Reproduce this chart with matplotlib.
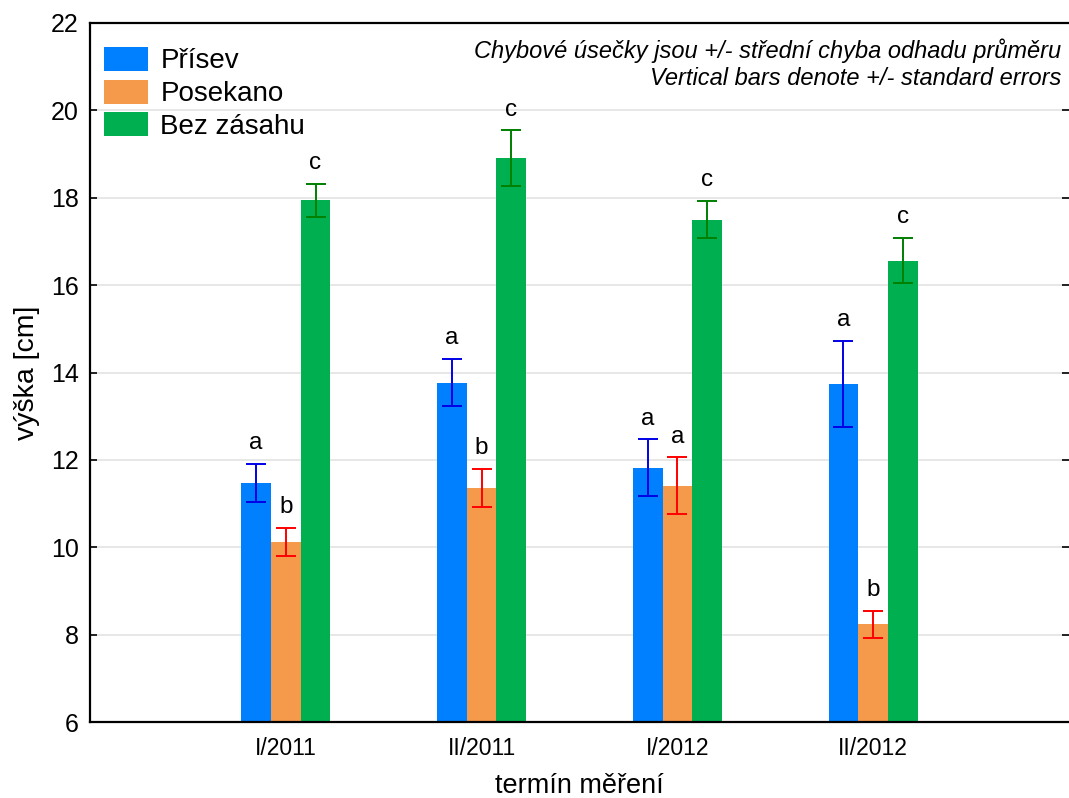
import numpy as np
import matplotlib
matplotlib.use("Agg")
import matplotlib.pyplot as plt
from matplotlib.patches import Patch

plt.rcParams['font.family'] = ['Liberation Sans', 'DejaVu Sans']

# Measurement terms
terms = ["I/2011", "II/2011", "I/2012", "II/2012"]

# Treatments
treatments = ["Přísev", "Posekano", "Bez zásahu"]

# Mean plant height [cm] per treatment and term
prisev_mean = [11.47, 13.77, 11.82, 13.74]
posekano_mean = [10.12, 11.35, 11.41, 8.24]
bez_zasahu_mean = [17.94, 18.91, 17.50, 16.56]

# Standard errors of the means
prisev_se = [0.44, 0.54, 0.65, 0.98]
posekano_se = [0.33, 0.44, 0.65, 0.31]
bez_zasahu_se = [0.38, 0.63, 0.43, 0.52]

# Letters of homogeneous groups
prisev_letters = ["a", "a", "a", "a"]
posekano_letters = ["b", "b", "a", "b"]
bez_zasahu_letters = ["c", "c", "c", "c"]

bar_colors = ["#0080FF", "#F5994A", "#00B050"]
err_colors = ["#0000E6", "#FF0000", "#008000"]

means = [prisev_mean, posekano_mean, bez_zasahu_mean]
ses = [prisev_se, posekano_se, bez_zasahu_se]
letters = [prisev_letters, posekano_letters, bez_zasahu_letters]

fig = plt.figure(figsize=(10.69, 7.98), dpi=100)
ax = fig.add_axes([90 / 1069, 76 / 798, 979 / 1069, 699 / 798])

x = np.arange(1, len(terms) + 1)
width = 0.152
offsets = [-width, 0.0, width]

for k in range(3):
    xs = x + offsets[k]
    ax.bar(xs, np.array(means[k]) - 6, bottom=6, width=width,
           color=bar_colors[k], edgecolor="none", zorder=2)
    ax.errorbar(xs, means[k], yerr=ses[k], fmt="none", ecolor=err_colors[k],
                elinewidth=1.4, capsize=7.5, capthick=1.4, zorder=3)
    for xi, m, s, lab in zip(xs, means[k], ses[k], letters[k]):
        ax.annotate(lab, (xi, m + s), xytext=(0, 10.5), textcoords="offset points",
                    ha="center", va="baseline", fontsize=17.5)

ax.set_xlim(0, 5)
ax.set_ylim(6, 22)
ax.set_yticks(np.arange(6, 23, 2))
ax.set_xticks(x)
ax.set_xticklabels(terms, fontsize=16.5)
ax.tick_params(axis="y", labelsize=18, direction="in", length=5, width=1.2,
               right=True, pad=8)
ax.tick_params(axis="x", length=0, pad=11)

ax.yaxis.grid(True, color="#E3E3E3", linewidth=1.2, zorder=0)
ax.set_axisbelow(True)

for side in ["left", "bottom", "top"]:
    ax.spines[side].set_linewidth(1.6)
ax.spines["right"].set_visible(False)

ax.set_ylabel("výška [cm]", fontsize=20.5, labelpad=8)
ax.set_xlabel("termín měření", fontsize=19.5, labelpad=9)

handles = [Patch(facecolor=c, edgecolor="none") for c in bar_colors]
ax.legend(handles, treatments, loc="upper left", bbox_to_anchor=(0.0, 0.9857),
          bbox_transform=ax.transAxes,
          frameon=False, fontsize=20, handlelength=1.58, handleheight=0.95,
          handletextpad=0.45, labelspacing=0.19, borderaxespad=0.3,
          borderpad=0.2)

ax.text(0.992, 0.978, "Chybové úsečky jsou +/- střední chyba odhadu průměru\n"
        "Vertical bars denote +/- standard errors",
        transform=ax.transAxes, ha="right", va="top", fontsize=17,
        style="italic", linespacing=1.2)

fig.savefig("out.png", dpi=100)
